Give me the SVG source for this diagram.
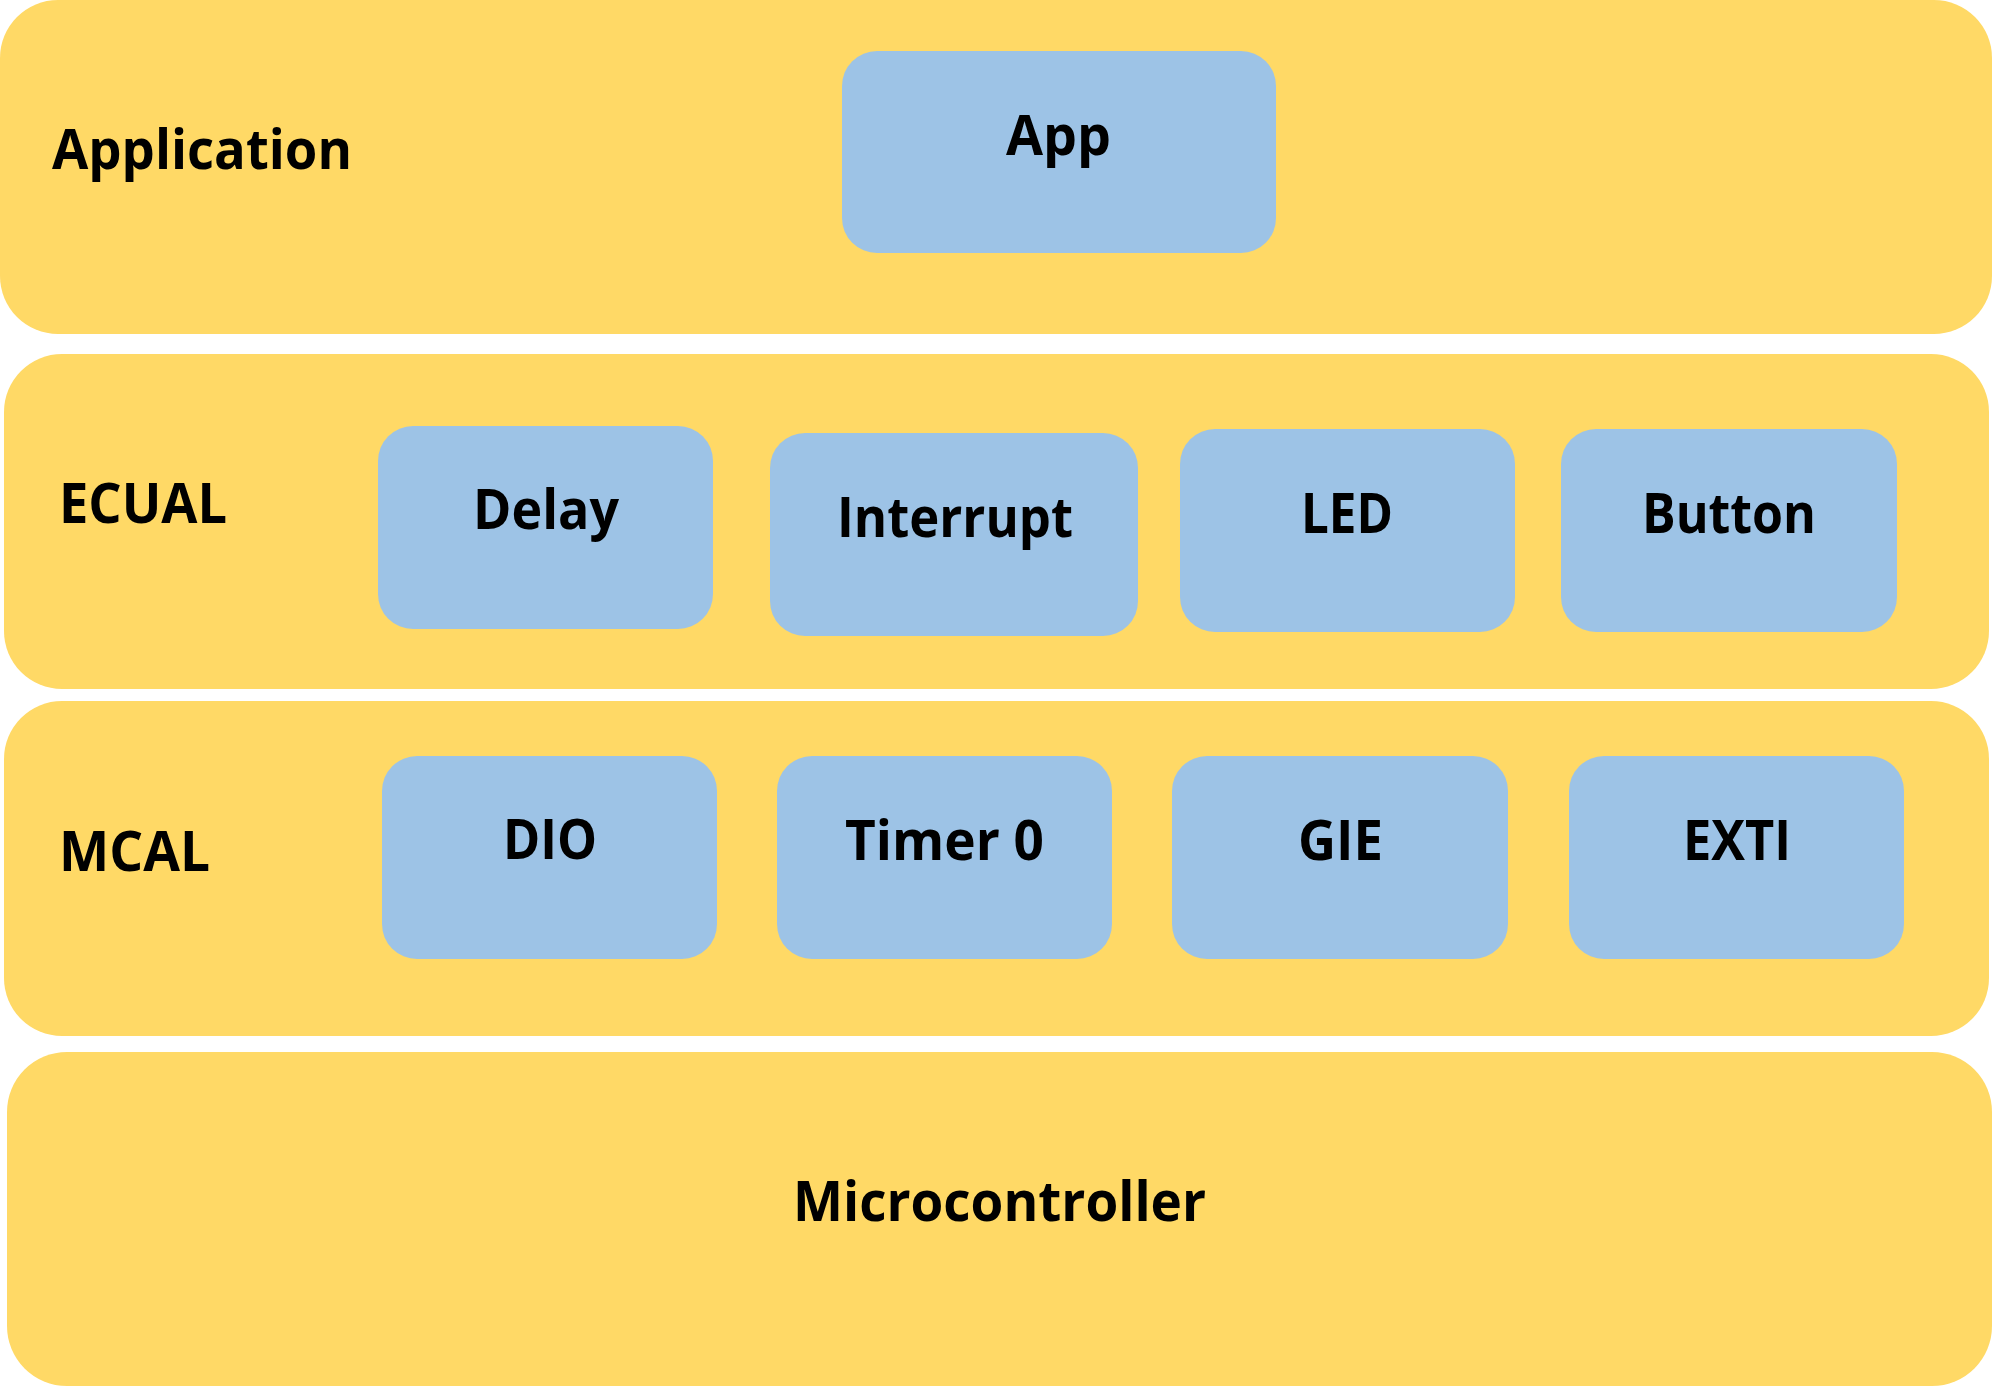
<svg xmlns="http://www.w3.org/2000/svg" width="1992" height="1387" viewBox="0 0 1992 1387">
<style>
.layer{fill:#FFD966}
.box{fill:#9DC3E6}
.t{font-family:"Open Sans","Noto Sans","Liberation Sans",sans-serif;font-weight:700;font-size:56px;fill:#000}
</style>
<rect width="1992" height="1387" fill="#FFFFFF"/>
<g id="layer-application">
<rect class="layer" x="0" y="0" width="1992" height="334" rx="58" ry="58"/>
<text class="t" x="52" y="169" textLength="300" lengthAdjust="spacingAndGlyphs">Application</text>
</g>
<g id="layer-ecual">
<rect class="layer" x="4" y="354" width="1985" height="335" rx="58" ry="58"/>
<text class="t" x="59" y="523" textLength="168" lengthAdjust="spacingAndGlyphs">ECUAL</text>
</g>
<g id="layer-mcal">
<rect class="layer" x="4" y="701" width="1985" height="335" rx="58" ry="58"/>
<text class="t" x="59" y="871" textLength="151" lengthAdjust="spacingAndGlyphs">MCAL</text>
</g>
<g id="layer-microcontroller">
<rect class="layer" x="7" y="1052" width="1985" height="334" rx="60" ry="60"/>
<text class="t" x="793" y="1221" textLength="413" lengthAdjust="spacingAndGlyphs">Microcontroller</text>
</g>
<g id="node-app">
<rect class="box" x="842" y="51" width="434" height="202" rx="35" ry="35"/>
<text class="t" x="1006" y="155" textLength="105" lengthAdjust="spacingAndGlyphs">App</text>
</g>
<g id="node-delay">
<rect class="box" x="378" y="426" width="335" height="203" rx="35" ry="35"/>
<text class="t" x="473" y="529" textLength="146" lengthAdjust="spacingAndGlyphs">Delay</text>
</g>
<g id="node-interrupt">
<rect class="box" x="770" y="433" width="368" height="203" rx="35" ry="35"/>
<text class="t" x="837" y="537" textLength="236" lengthAdjust="spacingAndGlyphs">Interrupt</text>
</g>
<g id="node-led">
<rect class="box" x="1180" y="429" width="335" height="203" rx="35" ry="35"/>
<text class="t" x="1301" y="533" textLength="92" lengthAdjust="spacingAndGlyphs">LED</text>
</g>
<g id="node-button">
<rect class="box" x="1561" y="429" width="336" height="203" rx="35" ry="35"/>
<text class="t" x="1642" y="533" textLength="174" lengthAdjust="spacingAndGlyphs">Button</text>
</g>
<g id="node-dio">
<rect class="box" x="382" y="756" width="335" height="203" rx="35" ry="35"/>
<text class="t" x="503" y="859" textLength="94" lengthAdjust="spacingAndGlyphs">DIO</text>
</g>
<g id="node-timer0">
<rect class="box" x="777" y="756" width="335" height="203" rx="35" ry="35"/>
<text class="t" x="845" y="860" textLength="199" lengthAdjust="spacingAndGlyphs">Timer 0</text>
</g>
<g id="node-gie">
<rect class="box" x="1172" y="756" width="336" height="203" rx="35" ry="35"/>
<text class="t" x="1298" y="860" textLength="85" lengthAdjust="spacingAndGlyphs">GIE</text>
</g>
<g id="node-exti">
<rect class="box" x="1569" y="756" width="335" height="203" rx="35" ry="35"/>
<text class="t" x="1683" y="860" textLength="108" lengthAdjust="spacingAndGlyphs">EXTI</text>
</g>
</svg>
